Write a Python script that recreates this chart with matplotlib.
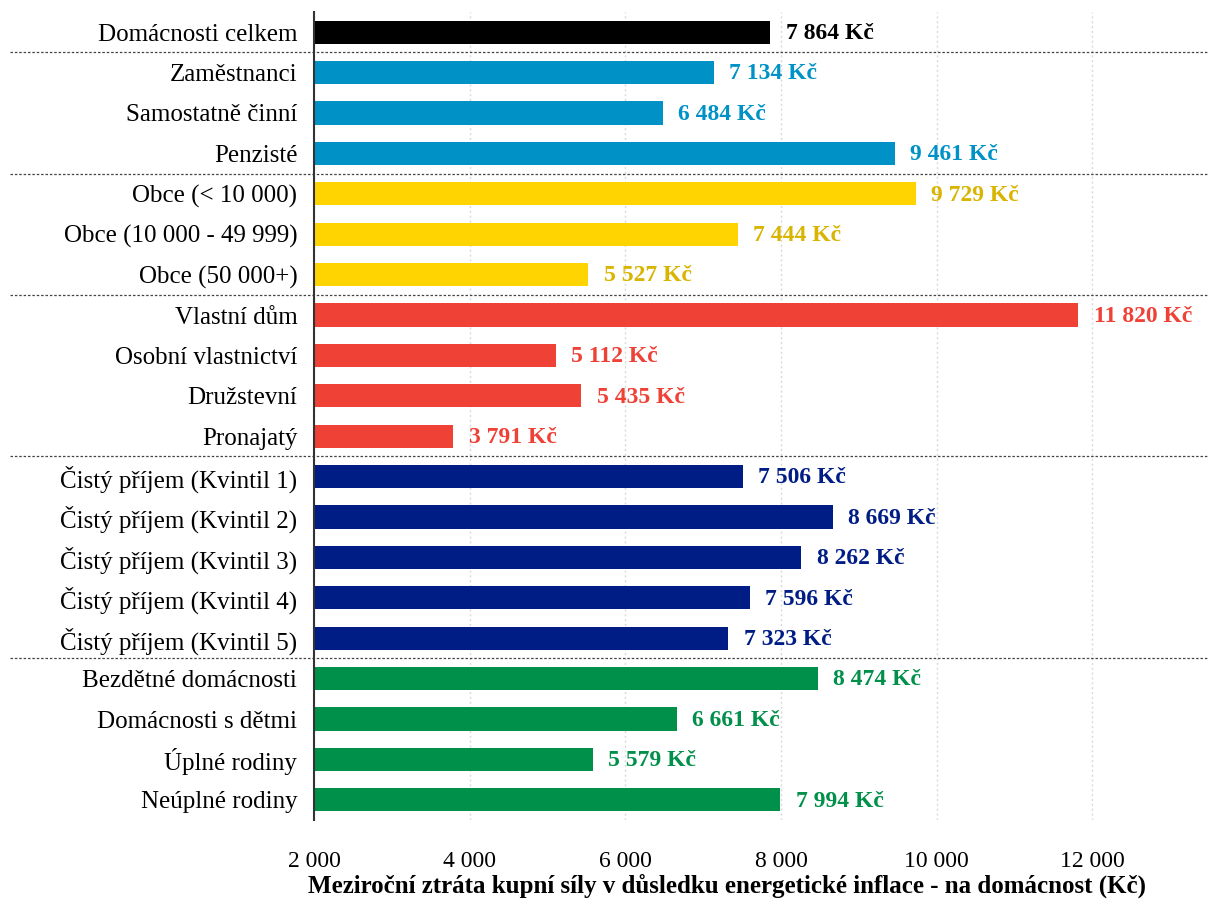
import matplotlib
matplotlib.use("Agg")
import matplotlib.pyplot as plt
from matplotlib.ticker import FuncFormatter, FixedLocator

categories = [
    "Domácnosti celkem",
    "Zaměstnanci", "Samostatně činní", "Penzisté",
    "Obce (< 10 000)", "Obce (10 000 - 49 999)", "Obce (50 000+)",
    "Vlastní dům", "Osobní vlastnictví", "Družstevní", "Pronajatý",
    "Čistý příjem (Kvintil 1)", "Čistý příjem (Kvintil 2)", "Čistý příjem (Kvintil 3)",
    "Čistý příjem (Kvintil 4)", "Čistý příjem (Kvintil 5)",
    "Bezdětné domácnosti", "Domácnosti s dětmi", "Úplné rodiny", "Neúplné rodiny",
]
values = [7864, 7134, 6484, 9461, 9729, 7444, 5527, 11820, 5112, 5435, 3791,
          7506, 8669, 8262, 7596, 7323, 8474, 6661, 5579, 7994]
groups = [0, 1, 1, 1, 2, 2, 2, 3, 3, 3, 3, 4, 4, 4, 4, 4, 5, 5, 5, 5]
bar_colors = ["#000000", "#0092C7", "#FFD400", "#EF4136", "#001C85", "#00904A"]
text_colors = ["#000000", "#0092C7", "#D9B400", "#EF4136", "#001C85", "#00904A"]
xticks = [2000, 4000, 6000, 8000, 10000, 12000]
xlabel = "Meziroční ztráta kupní síly v důsledku energetické inflace - na domácnost (Kč)"

FONT = ["Liberation Serif", "DejaVu Serif"]
plt.rcParams["font.family"] = FONT

fig = plt.figure(figsize=(12.09, 9.05), dpi=100)
ax = fig.add_axes([314 / 1209, 1 - 820 / 905, 1 - 314 / 1209, (820 - 12) / 905])

n = len(categories)
ypos = list(range(n))
base = 2000
for i, (v, g) in enumerate(zip(values, groups)):
    ax.barh(i, v - base, left=base, height=0.57, color=bar_colors[g], zorder=3)
    ax.annotate(f"{v:,}".replace(",", " ") + " Kč", xy=(v, i), xytext=(11, -1),
                textcoords="offset points", va="center", ha="left",
                fontsize=17, fontweight="bold", color=text_colors[g])

ax.set_ylim(n - 0.5, -0.5)
ax.set_xlim(2000, 13500)
ax.set_yticks(ypos)
ax.set_yticklabels(categories, fontsize=18)
ax.xaxis.set_major_locator(FixedLocator(xticks))
ax.xaxis.set_major_formatter(FuncFormatter(lambda x, p: f"{int(x):,}".replace(",", " ")))
ax.tick_params(axis="x", labelsize=17, length=0, pad=22)
ax.tick_params(axis="y", length=0, pad=12)
ax.set_xlabel(xlabel, fontsize=18, fontweight="bold")
ax.xaxis.set_label_coords((727 - 314) / 895, -(874 - 820) / 808)

for s in ["top", "right", "bottom"]:
    ax.spines[s].set_visible(False)
ax.spines["left"].set_color("#333333")
ax.spines["left"].set_linewidth(1.5)
ax.spines["left"].set_zorder(5)

ax.grid(axis="x", color="#d9d9d9", linestyle=(0, (1.5, 2)), linewidth=1, zorder=0)
ax.set_axisbelow(True)

# group separators
bounds = [i for i in range(1, n) if groups[i] != groups[i - 1]]
for b in bounds:
    yb = b - 0.5
    ax.plot([-(314 - 10) / 895, 1.0], [yb, yb], transform=ax.get_yaxis_transform(),
            color="#444444", linestyle=(0, (2, 1.5)), linewidth=0.9, clip_on=False, zorder=4)

fig.savefig("out.png", dpi=100)
